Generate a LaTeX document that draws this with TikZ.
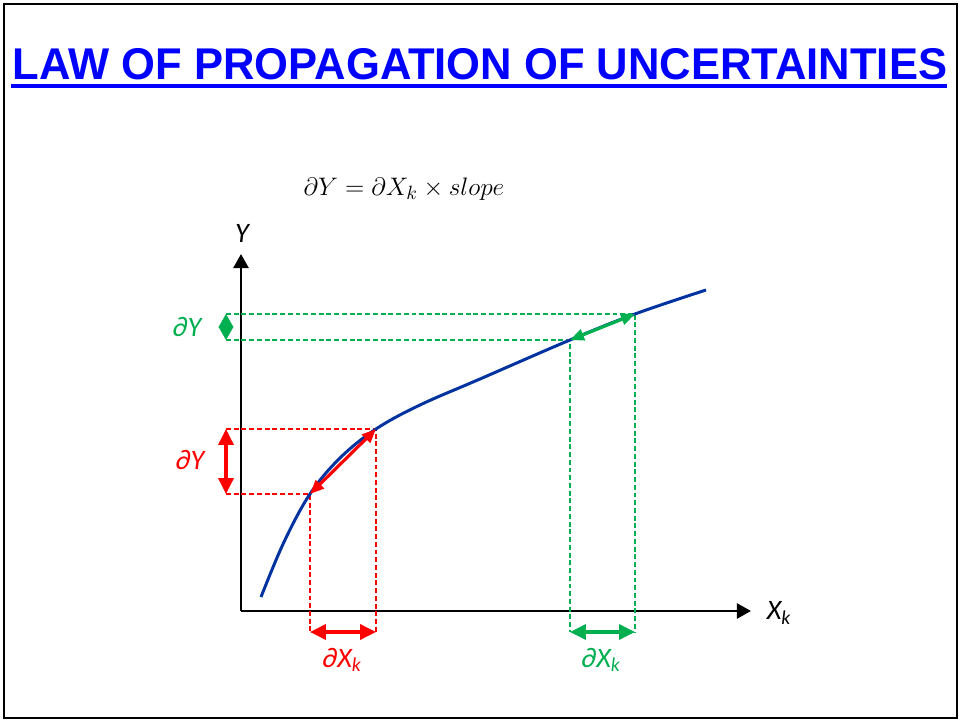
\documentclass[tikz,border=0pt]{standalone}
\usepackage{fontspec}
\usepackage{amsmath}
\setmainfont{Liberation Sans}
\newfontfamily\calib{Carlito}
\usetikzlibrary{arrows.meta, positioning, calc}
\definecolor{titleblue}{RGB}{0,0,255}
\definecolor{curveblue}{RGB}{0,51,160}
\definecolor{lowred}{RGB}{255,0,0}
\definecolor{highgreen}{RGB}{0,176,80}

\begin{document}
\begin{tikzpicture}[
    x=0.02cm, y=-0.02cm,
    lbl/.style={font=\calib\itshape\fontsize{16}{18}\selectfont},
    guide/.style={dash pattern=on 2.8pt off 1.6pt, line width=0.6pt},
    axis/.style={line width=1.6pt, -{Triangle[length=8pt, width=8.5pt]}},
    delta/.style={line width=1.8pt, {Triangle[length=9pt, width=8.5pt]}-{Triangle[length=9pt, width=8.5pt]}},
    slopearrow/.style={line width=1.8pt, {Triangle[length=8pt, width=6.5pt]}-{Triangle[length=8pt, width=6.5pt]}}
]
\useasboundingbox (0,0) rectangle (961,722);

% Frame and title
\draw[line width=1.1pt] (4,4) rectangle (957,718);
\node[font=\bfseries\fontsize{25.3}{28}\selectfont, text=titleblue, anchor=base] (title) at (480,80)
    {\scalebox{0.98}[1]{LAW OF PROPAGATION OF UNCERTAINTIES}};
\coordinate (ulA) at (11,86);
\coordinate (ulB) at (947,86);
\draw[titleblue, line width=2.4pt] (ulA) -- (ulB);

\node[font=\fontsize{15}{17}\selectfont] (law) at (404,189) {$\partial Y = \partial X_k \times slope$};

% Axes
\coordinate (O) at (241,611);
\coordinate (ytip) at (241,254);
\coordinate (xtip) at (751,611);
\draw[axis] (O) -- (ytip);
\draw[axis] (O) -- (xtip);
\node[lbl] (ylab) at (242,233) {Y};
\node[lbl] (xlab) at (779,613) {X\textsubscript{k}};

% Points on the curve
\coordinate (r1) at (310,494);
\coordinate (r2) at (376,429);
\coordinate (g1) at (570,340);
\coordinate (g2) at (635,314);

% Guide lines
\coordinate (ry1) at (226,494);
\coordinate (ry2) at (226,429);
\coordinate (rx1) at (310,632);
\coordinate (rx2) at (376,632);
\coordinate (gy1) at (226,340);
\coordinate (gy2) at (226,314);
\coordinate (gx1) at (570,632);
\coordinate (gx2) at (635,632);
\draw[guide, lowred] (ry1) -- (r1) -- (rx1);
\draw[guide, lowred] (ry2) -- (r2) -- (rx2);
\draw[guide, highgreen] (gy1) -- (g1) -- (gx1);
\draw[guide, highgreen] (gy2) -- (g2) -- (gx2);

% Curve
\draw[curveblue, line width=1.7pt] plot[smooth, tension=0.6] coordinates
    {(261,597) (284,542) (310,494) (340,458) (376,429) (420,405) (480,379) (570,340) (635,314) (706,290)};

% Red increments
\draw[delta, lowred] (ry1) -- (ry2);
\draw[delta, lowred] (rx1) -- (rx2);
\draw[slopearrow, lowred] (r1) -- (r2);
\node[lbl, lowred] (rdy) at (190,460) {∂Y};
\node[lbl, lowred] (rdx) at (342,660) {∂X\textsubscript{k}};

% Green increments
\draw[highgreen, {Triangle[length=7.6pt, width=8.5pt]}-{Triangle[length=7.6pt, width=8.5pt]}] (gy1) -- (gy2);
\draw[delta, highgreen] (gx1) -- (gx2);
\draw[slopearrow, highgreen] (g1) -- (g2);
\node[lbl, highgreen] (gdy) at (187,327) {∂Y};
\node[lbl, highgreen] (gdx) at (601,660) {∂X\textsubscript{k}};

\end{tikzpicture}
\end{document}
